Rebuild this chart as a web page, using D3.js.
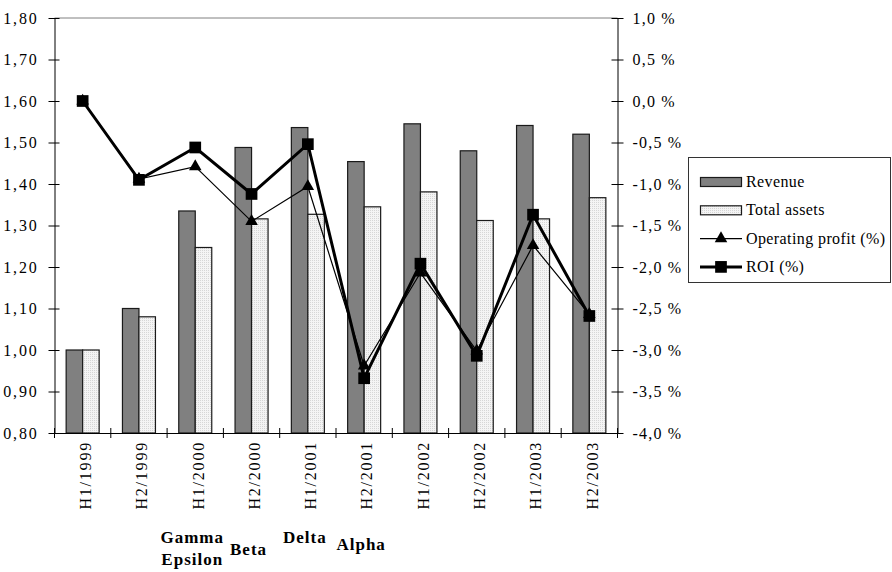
<!DOCTYPE html>
<html>
<head>
<meta charset="utf-8">
<script src="https://cdn.jsdelivr.net/npm/d3@7"></script>
<style>
  html, body { margin: 0; padding: 0; background: #fff; }
</style>
</head>
<body>
<svg id="chart" width="892" height="572"></svg>
<script>
// Half-year periods and the indexed series (revenue / total assets, left axis)
const categories = ["H1/1999", "H2/1999", "H1/2000", "H2/2000", "H1/2001",
                    "H2/2001", "H1/2002", "H2/2002", "H1/2003", "H2/2003"];
const revenue = [1.00, 1.10, 1.335, 1.488, 1.536, 1.454, 1.545, 1.480, 1.541, 1.520];
const totalAssets = [1.00, 1.08, 1.247, 1.316, 1.327, 1.345, 1.381, 1.312, 1.316, 1.367];

// Percentage series (right axis)
const operatingProfit = [0.0, -0.94, -0.79, -1.45, -1.03, -3.19, -2.07, -3.01, -1.74, -2.57];
const roi = [0.0, -0.95, -0.56, -1.12, -0.52, -3.34, -1.96, -3.07, -1.37, -2.59];

// Axis ticks
const leftTicks = [0.80, 0.90, 1.00, 1.10, 1.20, 1.30, 1.40, 1.50, 1.60, 1.70, 1.80];
const rightTicks = [-4.0, -3.5, -3.0, -2.5, -2.0, -1.5, -1.0, -0.5, 0.0, 0.5, 1.0];

// Names written under the periods they belong to
const annotationNames = ["Gamma", "Epsilon", "Beta", "Delta", "Alpha"];
const annotationPeriods = ["H1/2000", "H1/2000", "H2/2000", "H1/2001", "H2/2001"];

const legendLabels = ["Revenue", "Total assets", "Operating profit (%)", "ROI (%)"];

// ---------------------------------------------------------------------------
const FONT = "Liberation Serif";
const svg = d3.select("#chart");
const plot = { left: 54.5, right: 617.5, top: 18, bottom: 433 };

const locale = d3.formatLocale({ decimal: ",", thousands: " ", grouping: [3], currency: ["", ""], minus: "-" });
const fmtLeft = locale.format(".2f");
const fmtRight = locale.format(".1f");

const x = d3.scaleBand().domain(categories).range([plot.left, plot.right]).padding(0);
const yL = d3.scaleLinear().domain([0.8, 1.8]).range([plot.bottom, plot.top]);
const yR = d3.scaleLinear().domain([-4, 1]).range([plot.bottom, plot.top]);

// Dotted fill for total assets
const defs = svg.append("defs");
const pat = defs.append("pattern").attr("id", "dots")
  .attr("width", 2).attr("height", 2).attr("patternUnits", "userSpaceOnUse");
pat.append("rect").attr("width", 2).attr("height", 2).attr("fill", "#f4f4f4");
pat.append("rect").attr("width", 1).attr("height", 1).attr("fill", "#d6d6d6");

// Top frame line of the plot area
svg.append("line")
  .attr("x1", plot.left).attr("x2", plot.right)
  .attr("y1", plot.top).attr("y2", plot.top)
  .attr("stroke", "#808080").attr("stroke-width", 1);

// Bars
const barW = 16.5;
const cx = c => x(c) + x.bandwidth() / 2;

svg.append("g").selectAll("rect").data(categories).join("rect")
  .attr("x", d => cx(d) - barW)
  .attr("y", (d, i) => yL(revenue[i]))
  .attr("width", barW)
  .attr("height", (d, i) => plot.bottom - yL(revenue[i]))
  .attr("fill", "#808080").attr("stroke", "#1a1a1a").attr("stroke-width", 1.2);

svg.append("g").selectAll("rect").data(categories).join("rect")
  .attr("x", d => cx(d))
  .attr("y", (d, i) => yL(totalAssets[i]))
  .attr("width", barW)
  .attr("height", (d, i) => plot.bottom - yL(totalAssets[i]))
  .attr("fill", "url(#dots)").attr("stroke", "#1a1a1a").attr("stroke-width", 1.2);

// Axes
const tickFont = (g, spacing) => g.selectAll("text")
  .style("font-family", FONT)
  .style("font-size", "16px").attr("fill", "#000")
  .style("letter-spacing", spacing);

const axisStyle = g => {
  g.attr("font-family", FONT).attr("font-size", 16);
  g.select(".domain").attr("stroke", "#000").attr("stroke-width", 1);
  g.selectAll(".tick line").attr("stroke", "#000").attr("stroke-width", 1);
};

const gL = svg.append("g").attr("transform", `translate(${plot.left},0)`)
  .call(d3.axisLeft(yL).tickValues(leftTicks).tickFormat(fmtLeft).tickSizeInner(5).tickSizeOuter(0).tickPadding(11));
axisStyle(gL); tickFont(gL, "1.8px");
gL.selectAll(".tick line").attr("x2", 5).attr("x1", -6);

const gR = svg.append("g").attr("transform", `translate(${plot.right},0)`)
  .call(d3.axisRight(yR).tickValues(rightTicks).tickFormat(d => fmtRight(d) + " %").tickSizeInner(5).tickSizeOuter(0).tickPadding(10));
axisStyle(gR); tickFont(gR, "1.2px");
gR.selectAll(".tick line").attr("x1", -6).attr("x2", 6);

const gX = svg.append("g").attr("transform", `translate(0,${plot.bottom})`)
  .call(d3.axisBottom(x).tickSize(0).tickSizeOuter(0));
axisStyle(gX);
tickFont(gX, "1.8px");
gX.selectAll(".tick text")
  .attr("text-anchor", "end")
  .attr("transform", "translate(3,8) rotate(-90)")
  .attr("x", 0).attr("y", 0).attr("dy", "0.33em");
// Tick marks between categories
gX.append("g").selectAll("line").data(d3.range(categories.length + 1)).join("line")
  .attr("x1", i => plot.left + i * x.bandwidth())
  .attr("x2", i => plot.left + i * x.bandwidth())
  .attr("y1", -5).attr("y2", 5)
  .attr("stroke", "#000").attr("stroke-width", 1);

// Lines
const lineOP = d3.line().x((d, i) => cx(categories[i])).y(d => yR(d));
svg.append("path").datum(operatingProfit)
  .attr("d", lineOP).attr("fill", "none").attr("stroke", "#000").attr("stroke-width", 1.2);
svg.append("g").selectAll("path").data(operatingProfit).join("path")
  .attr("transform", (d, i) => `translate(${cx(categories[i])},${yR(d)})`)
  .attr("d", d3.symbol(d3.symbolTriangle, 68)).attr("fill", "#000");

svg.append("path").datum(roi)
  .attr("d", lineOP).attr("fill", "none").attr("stroke", "#000").attr("stroke-width", 3);
svg.append("g").selectAll("path").data(roi).join("path")
  .attr("transform", (d, i) => `translate(${cx(categories[i])},${yR(d)})`)
  .attr("d", d3.symbol(d3.symbolSquare, 137)).attr("fill", "#000");

// Bold names under the period labels
const annotationRow = { Gamma: 543, Epsilon: 565, Beta: 555, Delta: 543, Alpha: 550 };
svg.append("g").selectAll("text").data(annotationNames).join("text")
  .attr("x", (d, i) => cx(annotationPeriods[i]) - 3)
  .attr("y", d => annotationRow[d])
  .attr("text-anchor", "middle")
  .style("font-family", FONT)
  .style("font-size", "17px").style("font-weight", "bold")
  .style("letter-spacing", "1px")
  .text(d => d);

// Legend
const lg = svg.append("g");
lg.append("rect").attr("x", 688.5).attr("y", 157.5).attr("width", 202).attr("height", 125)
  .attr("fill", "#fff").attr("stroke", "#333").attr("stroke-width", 1);
const rowY = i => 182 + i * 28.3;
legendLabels.forEach((lab, i) => {
  const y0 = rowY(i);
  if (i === 0) {
    lg.append("rect").attr("x", 700.5).attr("y", y0 - 4.5).attr("width", 41).attr("height", 9)
      .attr("fill", "#808080").attr("stroke", "#1a1a1a").attr("stroke-width", 1.2);
  } else if (i === 1) {
    lg.append("rect").attr("x", 700.5).attr("y", y0 - 4.5).attr("width", 41).attr("height", 9)
      .attr("fill", "url(#dots)").attr("stroke", "#1a1a1a").attr("stroke-width", 1.2);
  } else {
    lg.append("line").attr("x1", 700).attr("x2", 742).attr("y1", y0).attr("y2", y0)
      .attr("stroke", "#000").attr("stroke-width", i === 2 ? 1.2 : 3);
    lg.append("path").attr("transform", `translate(721,${y0})`)
      .attr("d", d3.symbol(i === 2 ? d3.symbolTriangle : d3.symbolSquare, i === 2 ? 68 : 137))
      .attr("fill", "#000");
  }
  lg.append("text").attr("x", 746).attr("y", y0 + 5)
    .style("font-family", FONT)
    .style("font-size", "16px").style("letter-spacing", "0.4px").text(lab);
});
</script>
</body>
</html>
